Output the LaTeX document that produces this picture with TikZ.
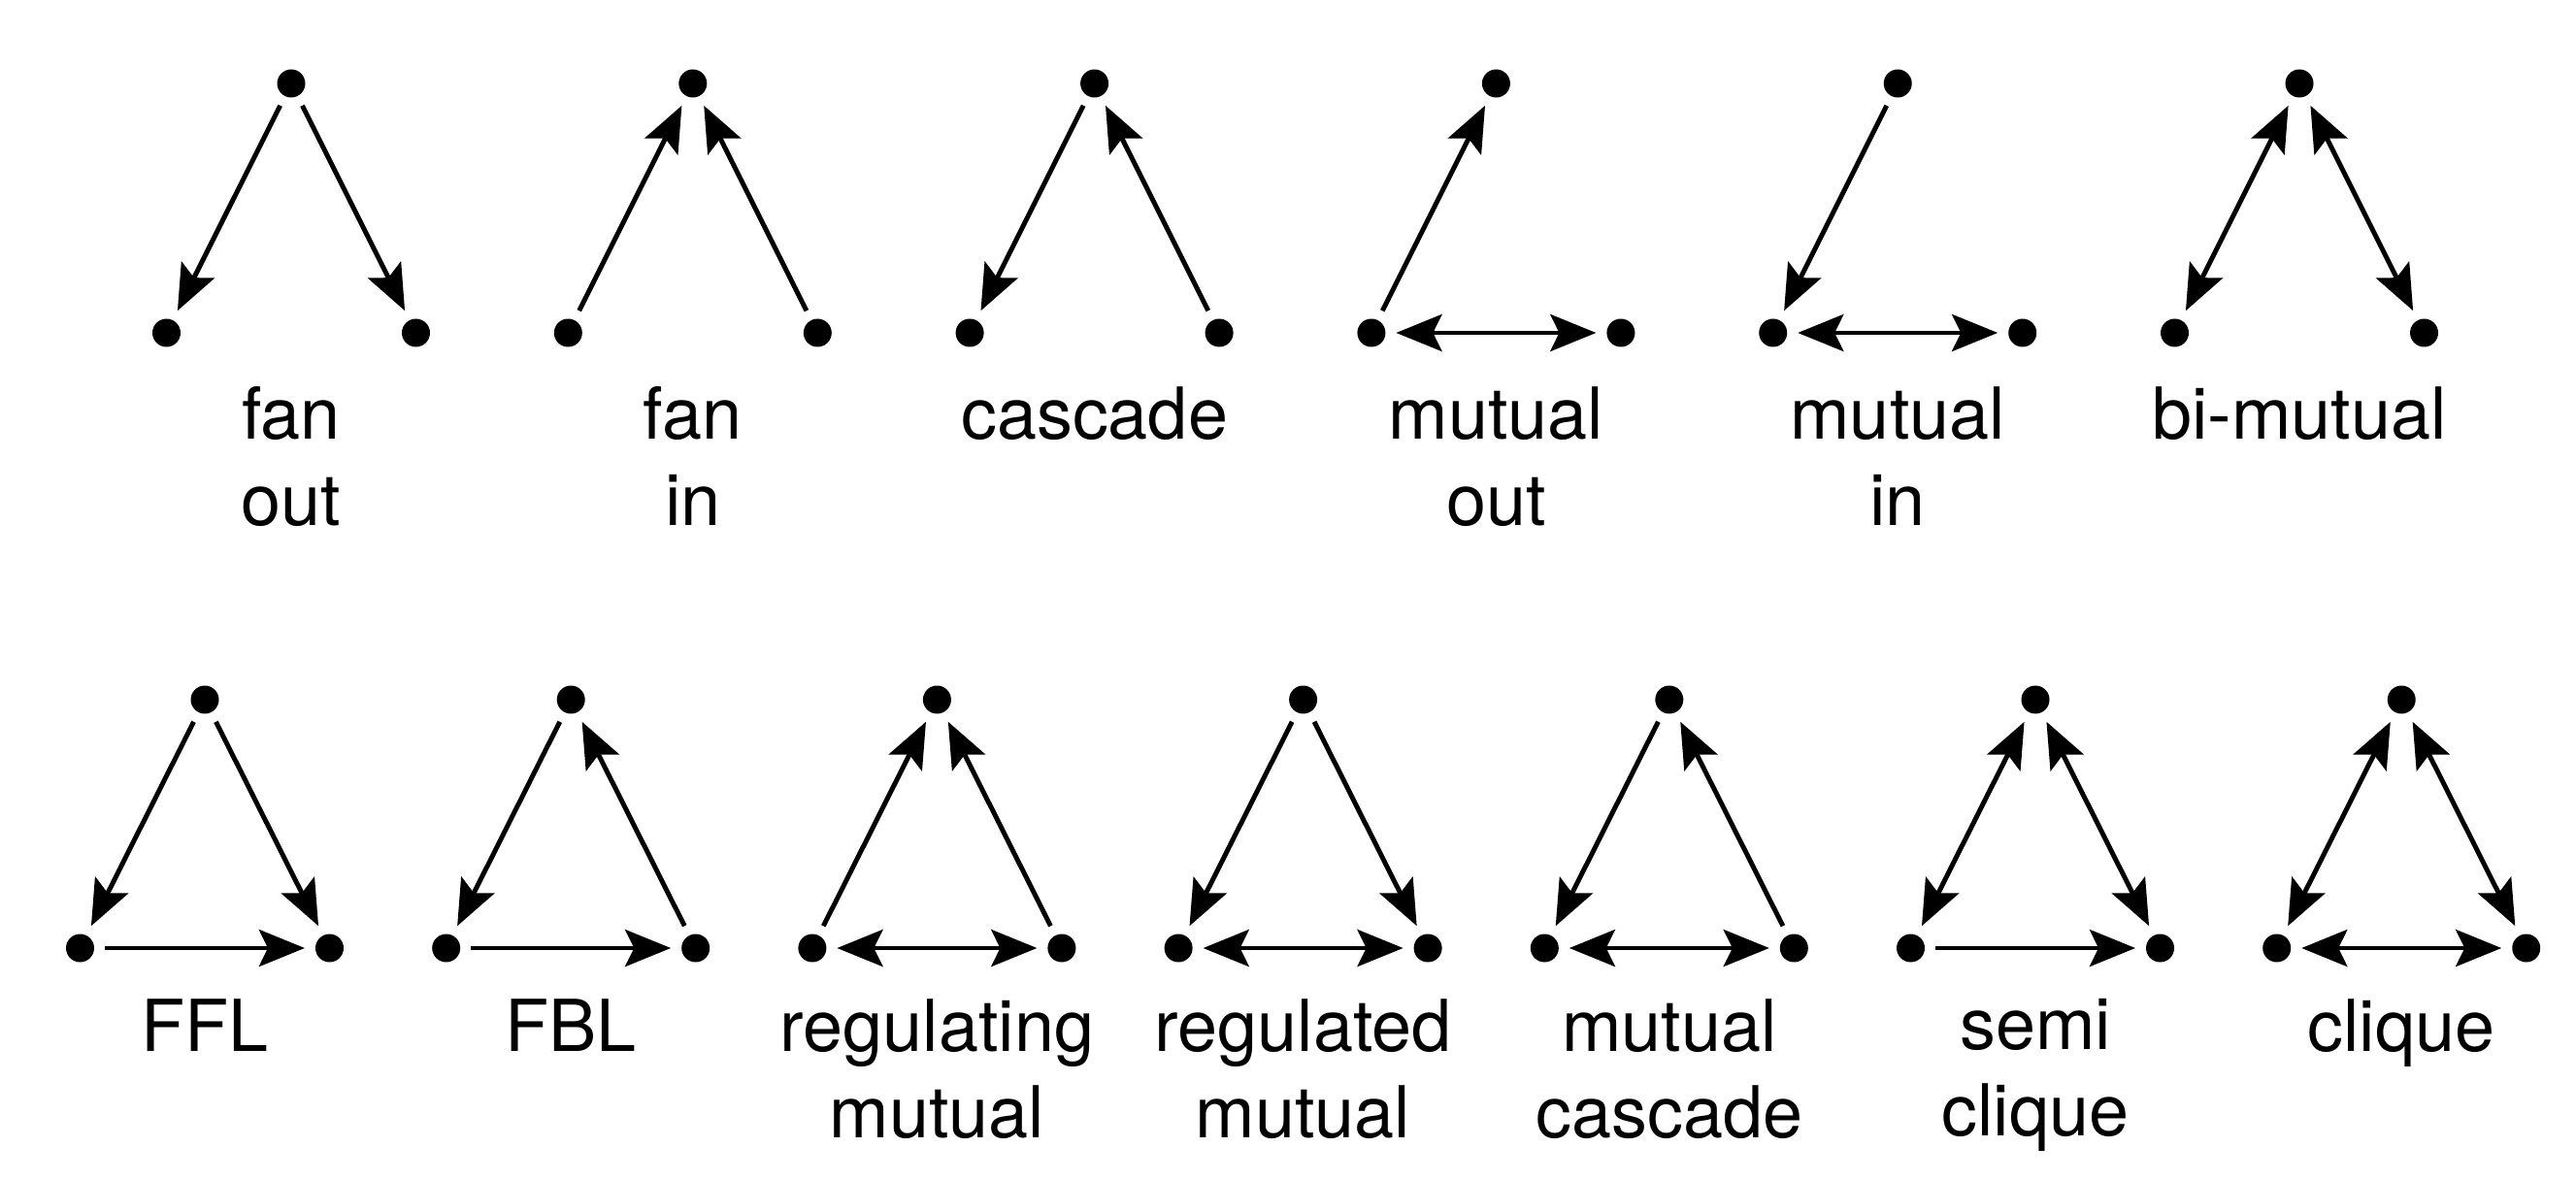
\documentclass[tikz,border=0pt]{standalone}
\usepackage{fontspec}
\setmainfont{TeX Gyre Heros}
\usetikzlibrary{arrows.meta}

\begin{document}
\begin{tikzpicture}[
  dot/.style={circle, fill=black, inner sep=0pt, minimum size=0.29cm, outer sep=0.11cm},
  arr/.style={line width=1.4pt, -{Stealth[length=13.4pt, width=10.8pt, inset=2.6pt]}},
  both/.style={line width=1.4pt, {Stealth[length=13.4pt, width=10.8pt, inset=2.6pt]}-{Stealth[length=13.4pt, width=10.8pt, inset=2.6pt]}},
  lbl/.style={font=\fontsize{21}{25.3}\selectfont, align=center, anchor=north, inner sep=0pt}]
  \useasboundingbox (0,0) rectangle (26.54,-12.16);
  % Upper row: the six motifs with two links
  \foreach \n/\x in {1/3.00, 2/7.138, 3/11.276, 4/15.414, 5/19.552, 6/23.69} {
    \node[dot] (t\n) at (\x,-0.86) {};
    \node[dot] (l\n) at (\x-1.285,-3.43) {};
    \node[dot] (r\n) at (\x+1.285,-3.43) {};
  }
  % Lower row: the seven motifs with three links
  \foreach \n/\x in {7/2.11, 8/5.882, 9/9.654, 10/13.426, 11/17.198, 12/20.97, 13/24.742} {
    \node[dot] (t\n) at (\x,-7.21) {};
    \node[dot] (l\n) at (\x-1.285,-9.77) {};
    \node[dot] (r\n) at (\x+1.285,-9.77) {};
  }
  % fan out
  \draw[arr] (t1) -- (l1);
  \draw[arr] (t1) -- (r1);
  \node[lbl] (name1) at (3.00,-3.98) {fan\\out};
  % fan in
  \draw[arr] (l2) -- (t2);
  \draw[arr] (r2) -- (t2);
  \node[lbl] (name2) at (7.138,-3.98) {fan\\in};
  % cascade
  \draw[arr] (t3) -- (l3);
  \draw[arr] (r3) -- (t3);
  \node[lbl] (name3) at (11.276,-3.98) {cascade};
  % mutual out
  \draw[arr] (l4) -- (t4);
  \draw[both] (l4) -- (r4);
  \node[lbl] (name4) at (15.414,-3.98) {mutual\\out};
  % mutual in
  \draw[arr] (t5) -- (l5);
  \draw[both] (l5) -- (r5);
  \node[lbl] (name5) at (19.552,-3.98) {mutual\\in};
  % bi-mutual
  \draw[both] (t6) -- (l6);
  \draw[both] (t6) -- (r6);
  \node[lbl] (name6) at (23.69,-3.98) {bi-mutual};
  % FFL
  \draw[arr] (t7) -- (l7);
  \draw[arr] (t7) -- (r7);
  \draw[arr] (l7) -- (r7);
  \node[lbl] (name7) at (2.11,-10.29) {FFL};
  % FBL
  \draw[arr] (t8) -- (l8);
  \draw[arr] (r8) -- (t8);
  \draw[arr] (l8) -- (r8);
  \node[lbl] (name8) at (5.882,-10.29) {FBL};
  % regulating mutual
  \draw[arr] (l9) -- (t9);
  \draw[arr] (r9) -- (t9);
  \draw[both] (l9) -- (r9);
  \node[lbl] (name9) at (9.654,-10.29) {regulating\\mutual};
  % regulated mutual
  \draw[arr] (t10) -- (l10);
  \draw[arr] (t10) -- (r10);
  \draw[both] (l10) -- (r10);
  \node[lbl] (name10) at (13.426,-10.29) {regulated\\mutual};
  % mutual cascade
  \draw[arr] (t11) -- (l11);
  \draw[arr] (r11) -- (t11);
  \draw[both] (l11) -- (r11);
  \node[lbl] (name11) at (17.198,-10.29) {mutual\\cascade};
  % semi clique
  \draw[both] (t12) -- (l12);
  \draw[both] (t12) -- (r12);
  \draw[arr] (l12) -- (r12);
  \node[lbl] (name12) at (20.97,-10.29) {semi\\clique};
  % clique
  \draw[both] (t13) -- (l13);
  \draw[both] (t13) -- (r13);
  \draw[both] (l13) -- (r13);
  \node[lbl] (name13) at (24.742,-10.29) {clique};
\end{tikzpicture}
\end{document}
